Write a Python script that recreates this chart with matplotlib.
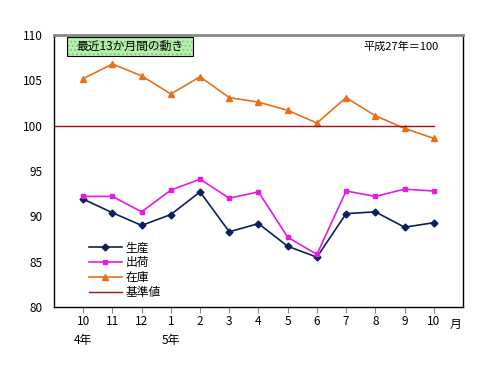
import matplotlib
matplotlib.use("Agg")
import matplotlib.pyplot as plt
from matplotlib.patches import Rectangle

plt.rcParams['font.family'] = ['Noto Sans CJK JP', 'DejaVu Sans']

# Data
months = ['10', '11', '12', '1', '2', '3', '4', '5', '6', '7', '8', '9', '10']
production = [91.9, 90.4, 89.0, 90.2, 92.7, 88.3, 89.2, 86.7, 85.5, 90.3, 90.5, 88.8, 89.3]
shipments = [92.2, 92.2, 90.5, 92.9, 94.1, 92.0, 92.7, 87.7, 85.8, 92.8, 92.2, 93.0, 92.8]
inventory = [105.2, 106.8, 105.5, 103.5, 105.4, 103.1, 102.6, 101.7, 100.3, 103.1, 101.1, 99.7, 98.6]
baseline = 100
year_labels = {0: '4年', 3: '5年'}

x = list(range(len(months)))

fig = plt.figure(figsize=(4.8, 3.71), dpi=100)
ax = fig.add_axes([0.1125, 0.1725, 0.852, 0.733])

ax.plot(x, production, color='#0a1f5c', marker='D', markersize=3.5, linewidth=1.2, label='生産')
ax.plot(x, shipments, color='#e619e6', marker='s', markersize=3.5, linewidth=1.2, label='出荷')
ax.plot(x, inventory, color='#e8701a', marker='^', markersize=4.5, linewidth=1.2, label='在庫')
ax.plot([-1, x[-1]], [baseline, baseline], color='#a01010', linewidth=1.0, label='基準値')

ax.set_xlim(-1, 13)
ax.set_ylim(80, 110)
ax.set_yticks(range(80, 111, 5))
ax.set_xticks(x)
ax.set_xticklabels(months)
ax.tick_params(axis='y', length=0, labelsize=8.5, pad=8)
ax.tick_params(axis='x', length=4, direction='out', labelsize=8.5, pad=2, color='#888888')

for s in ['left', 'bottom', 'right']:
    ax.spines[s].set_color('black')
    ax.spines[s].set_linewidth(1.0)
ax.spines['top'].set_color('#888888')
ax.spines['top'].set_linewidth(2.0)

# year labels under month ticks
for i, lab in year_labels.items():
    ax.text(x[i], 76.3, lab, ha='center', va='center', fontsize=8.5, clip_on=False)
ax.text(12.75, 78.1, '月', ha='center', va='center', fontsize=8.5, clip_on=False)

# title box: light green dotted fill with black border
box = (0.032, 0.923, 0.308, 0.070)
ax.add_patch(Rectangle(box[:2], box[2], box[3], transform=ax.transAxes,
                       facecolor='#b8f0b0', edgecolor='#7fcf78', hatch='....',
                       linewidth=0, zorder=3))
ax.add_patch(Rectangle(box[:2], box[2], box[3], transform=ax.transAxes,
                       facecolor='none', edgecolor='black', linewidth=0.8, zorder=4))
ax.text(0.186, 0.958, '最近13か月間の動き', transform=ax.transAxes, ha='center',
        va='center', fontsize=8.5, zorder=5)
ax.text(0.94, 0.958, '平成27年＝100', transform=ax.transAxes, ha='right', va='center', fontsize=8)

ax.legend(loc='lower left', bbox_to_anchor=(0.065, 0.0), frameon=False, fontsize=8.5,
          handlelength=2.8, labelspacing=0.15, handletextpad=0.3, borderpad=0.2)

fig.savefig('out.png', dpi=100)
